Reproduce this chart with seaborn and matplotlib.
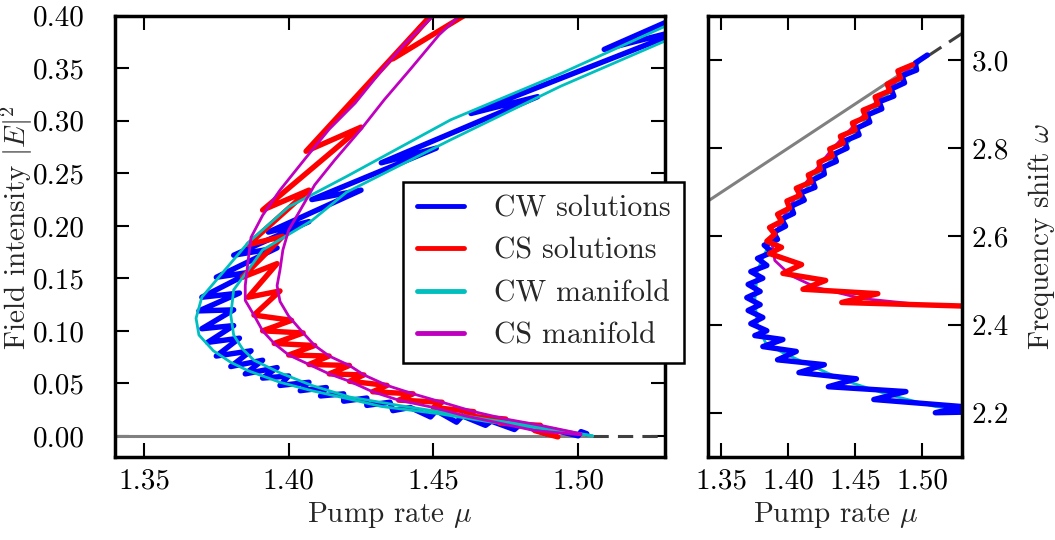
import matplotlib
matplotlib.use("Agg")
import matplotlib.pyplot as plt
import seaborn as sns
from matplotlib.lines import Line2D

# ---- left panel: field intensity vs pump rate ----
cw_mu_outer = [1.542, 1.530, 1.494, 1.456, 1.420, 1.400, 1.386, 1.370, 1.368, 1.369, 1.374,
               1.380, 1.386, 1.397, 1.408, 1.421, 1.432, 1.452, 1.470, 1.487, 1.505]
cw_E_outer = [0.406, 0.390, 0.345, 0.301, 0.247, 0.218, 0.184, 0.132, 0.112, 0.096, 0.081,
              0.070, 0.062, 0.051, 0.043, 0.035, 0.028, 0.021, 0.013, 0.007, 0.000]
cw_mu_inner = [1.542, 1.530, 1.494, 1.456, 1.420, 1.408, 1.391, 1.381, 1.380, 1.381, 1.384,
               1.388, 1.397, 1.408, 1.421, 1.438, 1.452, 1.470, 1.487, 1.505]
cw_E_inner = [0.392, 0.376, 0.333, 0.282, 0.232, 0.205, 0.177, 0.139, 0.115, 0.096, 0.083,
              0.072, 0.060, 0.048, 0.037, 0.029, 0.023, 0.015, 0.009, 0.000]

cs_mu_outer = [1.456, 1.450, 1.440, 1.433, 1.423, 1.414, 1.406, 1.397, 1.391, 1.387, 1.386,
               1.385, 1.385, 1.388, 1.391, 1.395, 1.400, 1.407, 1.414, 1.421, 1.429, 1.438,
               1.450, 1.461, 1.473, 1.485, 1.501]
cs_E_outer = [0.421, 0.400, 0.373, 0.351, 0.317, 0.292, 0.265, 0.234, 0.210, 0.189, 0.167,
              0.143, 0.129, 0.115, 0.100, 0.088, 0.077, 0.068, 0.059, 0.052, 0.042, 0.034,
              0.027, 0.019, 0.012, 0.005, 0.001]
cs_mu_inner = [1.464, 1.459, 1.452, 1.442, 1.433, 1.425, 1.416, 1.409, 1.404, 1.400, 1.398,
               1.397, 1.396, 1.397, 1.400, 1.405, 1.409, 1.414, 1.421, 1.426, 1.434, 1.443,
               1.453, 1.464, 1.475, 1.487, 1.501]
cs_E_inner = [0.421, 0.400, 0.382, 0.349, 0.320, 0.292, 0.263, 0.239, 0.215, 0.196, 0.177,
              0.158, 0.143, 0.128, 0.114, 0.098, 0.086, 0.076, 0.067, 0.058, 0.048, 0.040,
              0.032, 0.023, 0.016, 0.010, 0.002]

# snaking CW solution, read from the top-right end down to the bottom-right end
cw_sol_mu = [1.542, 1.509, 1.539, 1.463, 1.486, 1.432, 1.451, 1.408, 1.425, 1.393, 1.407,
             1.381, 1.396, 1.375, 1.387, 1.370, 1.383, 1.369, 1.381, 1.370, 1.381, 1.372,
             1.383, 1.375, 1.387, 1.380, 1.391, 1.385, 1.396, 1.391, 1.400, 1.397, 1.407,
             1.404, 1.413, 1.411, 1.419, 1.419, 1.427, 1.427, 1.435, 1.436, 1.442, 1.449,
             1.451, 1.458, 1.460, 1.468, 1.470, 1.478, 1.480, 1.489, 1.491, 1.500, 1.501,
             1.503]
cw_sol_E = [0.408, 0.368, 0.389, 0.307, 0.323, 0.260, 0.274, 0.225, 0.234, 0.194, 0.204,
            0.172, 0.179, 0.151, 0.156, 0.132, 0.136, 0.119, 0.120, 0.102, 0.105, 0.089,
            0.093, 0.076, 0.081, 0.066, 0.072, 0.059, 0.065, 0.055, 0.057, 0.048, 0.051,
            0.043, 0.046, 0.038, 0.040, 0.033, 0.036, 0.029, 0.032, 0.024, 0.027, 0.018,
            0.024, 0.013, 0.019, 0.010, 0.014, 0.006, 0.011, 0.002, 0.006, 0.000, 0.004,
            0.002]

cs_sol_mu = [1.473, 1.436, 1.456, 1.406, 1.425, 1.391, 1.407, 1.386, 1.398, 1.384, 1.396,
             1.386, 1.397, 1.388, 1.401, 1.391, 1.405, 1.395, 1.409, 1.400, 1.414, 1.407,
             1.421, 1.414, 1.426, 1.421, 1.434, 1.429, 1.443, 1.438, 1.453, 1.450, 1.464,
             1.461, 1.475, 1.473, 1.487, 1.485, 1.493]
cs_sol_E = [0.421, 0.359, 0.421, 0.271, 0.294, 0.215, 0.234, 0.182, 0.190, 0.151, 0.164,
            0.132, 0.138, 0.115, 0.110, 0.100, 0.098, 0.088, 0.086, 0.077, 0.076, 0.068,
            0.067, 0.059, 0.058, 0.052, 0.048, 0.042, 0.040, 0.034, 0.032, 0.027, 0.023,
            0.019, 0.016, 0.012, 0.010, 0.005, -0.001]

flat_mu = [1.34, 1.505]
flat_E = [0.0, 0.0]
flat_mu_dash = [1.505, 1.54]
flat_E_dash = [0.0, 0.0]

# ---- right panel: frequency shift vs pump rate ----
cw_sol_w_mu = [1.504, 1.495, 1.496, 1.485, 1.487, 1.477, 1.479, 1.468, 1.470, 1.459, 1.461,
               1.451, 1.453, 1.442, 1.444, 1.434, 1.436, 1.426, 1.427, 1.418, 1.420, 1.409,
               1.412, 1.402, 1.404, 1.395, 1.398, 1.389, 1.392, 1.382, 1.388, 1.377, 1.384,
               1.372, 1.381, 1.370, 1.379, 1.369, 1.379, 1.370, 1.381, 1.372, 1.384, 1.375,
               1.396, 1.381, 1.406, 1.392, 1.427, 1.408, 1.451, 1.430, 1.488, 1.464, 1.530,
               1.510, 1.541]
cw_sol_w = [3.011, 2.993, 2.977, 2.964, 2.948, 2.934, 2.918, 2.905, 2.889, 2.875, 2.859,
            2.845, 2.830, 2.816, 2.800, 2.786, 2.770, 2.757, 2.741, 2.727, 2.711, 2.698,
            2.682, 2.668, 2.652, 2.639, 2.623, 2.609, 2.593, 2.580, 2.564, 2.550, 2.534,
            2.520, 2.505, 2.491, 2.475, 2.461, 2.445, 2.432, 2.416, 2.402, 2.386, 2.375,
            2.366, 2.350, 2.339, 2.320, 2.309, 2.291, 2.277, 2.259, 2.248, 2.230, 2.214,
            2.200, 2.202]

cs_sol_w_mu = [1.493, 1.482, 1.484, 1.474, 1.476, 1.465, 1.467, 1.456, 1.458, 1.448, 1.450,
               1.439, 1.441, 1.431, 1.433, 1.423, 1.424, 1.415, 1.417, 1.406, 1.409, 1.399,
               1.401, 1.392, 1.395, 1.386, 1.390, 1.384, 1.395, 1.386, 1.410, 1.396, 1.428,
               1.411, 1.467, 1.440, 1.541]
cs_sol_w = [2.989, 2.975, 2.959, 2.945, 2.930, 2.916, 2.900, 2.886, 2.870, 2.857, 2.841,
            2.827, 2.811, 2.798, 2.782, 2.768, 2.752, 2.739, 2.723, 2.709, 2.693, 2.680,
            2.664, 2.650, 2.634, 2.620, 2.605, 2.589, 2.575, 2.561, 2.536, 2.516, 2.500,
            2.480, 2.470, 2.450, 2.441]

cw_man_w_mu = [1.502, 1.470, 1.442, 1.421, 1.402, 1.387, 1.377, 1.375, 1.377, 1.383, 1.396,
               1.417, 1.442, 1.475, 1.510, 1.541]
cw_man_w = [3.007, 2.909, 2.802, 2.739, 2.659, 2.591, 2.523, 2.455, 2.398, 2.359, 2.336,
            2.307, 2.273, 2.241, 2.214, 2.205]
cs_man_w_mu = [1.492, 1.458, 1.432, 1.409, 1.394, 1.388, 1.390, 1.402, 1.421, 1.455, 1.500, 1.541]
cs_man_w = [2.986, 2.880, 2.795, 2.705, 2.632, 2.580, 2.545, 2.511, 2.484, 2.459, 2.445, 2.441]

line_mu = [1.34, 1.505]
line_w = [2.68, 3.01]
line_mu_dash = [1.505, 1.54]
line_w_dash = [3.01, 3.08]

x_ticks = [1.35, 1.40, 1.45, 1.50]
x_tick_labels = ["1.35", "1.40", "1.45", "1.50"]
E_ticks = [0.00, 0.05, 0.10, 0.15, 0.20, 0.25, 0.30, 0.35, 0.40]
E_tick_labels = ["0.00", "0.05", "0.10", "0.15", "0.20", "0.25", "0.30", "0.35", "0.40"]
w_ticks = [2.2, 2.4, 2.6, 2.8, 3.0]
w_tick_labels = ["2.2", "2.4", "2.6", "2.8", "3.0"]

legend_labels = ["CW solutions", "CS solutions", "CW manifold", "CS manifold"]
legend_colors = ["b", "r", "c", "m"]

sns.set_style("ticks")
plt.rcParams["font.family"] = ["cmr10", "DejaVu Serif"]
plt.rcParams["mathtext.fontset"] = "cm"
plt.rcParams["axes.formatter.use_mathtext"] = True
plt.rcParams["axes.unicode_minus"] = False

FS = 21
SOL_LW = 3.9
MAN_LW = 2.0


def draw(ax, x, y, color, lw, **kw):
    sns.lineplot(x=x, y=y, ax=ax, color=color, lw=lw, sort=False, estimator=None,
                 legend=False, solid_capstyle="round", solid_joinstyle="round", **kw)


def style_axes(ax):
    for s in ax.spines.values():
        s.set_linewidth(2.5)
        s.set_color("black")
    ax.tick_params(direction="in", length=10, width=1.5, top=True, bottom=True,
                   left=True, right=True, labelsize=FS, colors="black")
    ax.tick_params(axis="x", pad=8)
    ax.set_xlim(1.34, 1.53)
    ax.set_xticks(x_ticks)
    ax.set_xticklabels(x_tick_labels)
    ax.set_xlabel(r"Pump rate $\mu$", fontsize=FS)


fig = plt.figure(figsize=(10.55, 5.4), dpi=100)
ax1 = fig.add_axes([0.109, 0.154, 0.5213, 0.8167])
ax2 = fig.add_axes([0.6711, 0.154, 0.2408, 0.8167])

# left panel: thin manifolds over the thick solution branches
draw(ax1, flat_mu, flat_E, "#808080", 2.2)
draw(ax1, flat_mu_dash, flat_E_dash, "#404040", 2.2, linestyle=(0, (5, 3)))
draw(ax1, cw_sol_mu, cw_sol_E, "b", SOL_LW)
draw(ax1, cs_sol_mu, cs_sol_E, "r", SOL_LW)
draw(ax1, cw_mu_outer, cw_E_outer, "c", MAN_LW)
draw(ax1, cw_mu_inner, cw_E_inner, "c", MAN_LW)
draw(ax1, cs_mu_outer, cs_E_outer, "m", MAN_LW)
draw(ax1, cs_mu_inner, cs_E_inner, "m", MAN_LW)

style_axes(ax1)
ax1.set_ylim(-0.02, 0.40)
ax1.set_yticks(E_ticks)
ax1.set_yticklabels(E_tick_labels)
ax1.tick_params(axis="y", pad=22)
ax1.set_ylabel(r"Field intensity $|E|^2$", fontsize=FS)
ax1.yaxis.set_label_coords(-0.145, 0.52)

handles = [Line2D([], [], color=c, lw=3.5) for c in legend_colors]
leg = ax1.legend(handles, legend_labels, loc="upper left", bbox_to_anchor=(0.524, 0.624),
                 borderaxespad=0, prop={"size": 21.5}, frameon=True, fancybox=False,
                 framealpha=1, edgecolor="black", handlelength=1.6, handletextpad=1.0,
                 labelspacing=0.5, borderpad=0.45)
leg.get_frame().set_linewidth(1.8)
leg.set_zorder(10)

# right panel
draw(ax2, line_mu, line_w, "#808080", 2.2)
draw(ax2, line_mu_dash, line_w_dash, "#404040", 2.2, linestyle=(0, (5, 3)))
draw(ax2, cw_man_w_mu, cw_man_w, "c", MAN_LW)
draw(ax2, cs_man_w_mu, cs_man_w, "m", MAN_LW)
draw(ax2, cw_sol_w_mu, cw_sol_w, "b", SOL_LW)
draw(ax2, cs_sol_w_mu, cs_sol_w, "r", SOL_LW)

style_axes(ax2)
ax2.set_ylim(2.1, 3.1)
ax2.set_yticks(w_ticks)
ax2.set_yticklabels(w_tick_labels)
ax2.tick_params(axis="y", labelleft=False, labelright=True, pad=7)
ax2.yaxis.set_label_position("right")
ax2.set_ylabel(r"Frequency shift $\omega$", fontsize=FS)
ax2.yaxis.set_label_coords(1.25, 0.5)

fig.savefig("out.png", dpi=100)
